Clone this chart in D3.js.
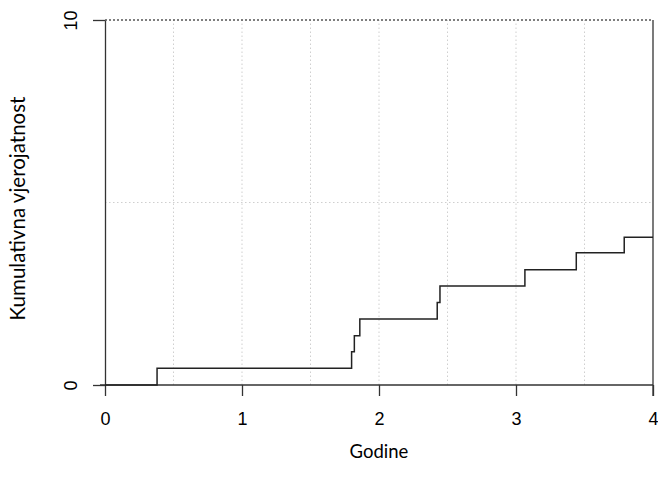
<!DOCTYPE html>
<html>
<head>
<meta charset="utf-8">
<script src="https://cdn.jsdelivr.net/npm/d3@7"></script>
<style>
  body { margin: 0; background: #fff; }
</style>
</head>
<body>
<svg id="chart" width="658" height="487"></svg>
<script>
// Step points: time (years) where the cumulative value jumps, and the value after the jump.
var stepTimes  = [0, 0.38, 1.80, 1.82, 1.86, 2.425, 2.445, 3.065, 3.44, 3.79];
var stepValues = [0, 0.46, 0.91, 1.35, 1.81, 2.26, 2.71, 3.16, 3.62, 4.05];
var endTime = 4;

var xTicks = [0, 1, 2, 3, 4];
var yTicks = [0, 10];
var xGrid = [0.5, 1, 1.5, 2, 2.5, 3, 3.5];
var yGrid = [5];

var svg = d3.select("#chart");

// Plot region in pixels.
var x = d3.scaleLinear().domain([0, 4]).range([105, 653]);
var y = d3.scaleLinear().domain([0, 10]).range([385, 20]);

// Light dotted grid.
svg.selectAll("line.vgrid").data(xGrid).enter().append("line")
    .attr("x1", x).attr("x2", x)
    .attr("y1", y(0)).attr("y2", y(10))
    .attr("stroke", "#cfcfcf").attr("stroke-dasharray", "1.5,2.5");

svg.selectAll("line.hgrid").data(yGrid).enter().append("line")
    .attr("x1", x(0)).attr("x2", x(4))
    .attr("y1", y).attr("y2", y)
    .attr("stroke", "#cfcfcf").attr("stroke-dasharray", "1.5,2.5");

// Dotted line at the top of the range.
svg.append("line")
    .attr("x1", x(0)).attr("x2", x(4))
    .attr("y1", y(10)).attr("y2", y(10))
    .attr("stroke", "#555").attr("stroke-width", 1.5).attr("stroke-dasharray", "2,2");

// Axes drawn through the origin, plus the right side line.
var fmt = d3.format("d");
var xAxis = d3.axisBottom(x).tickValues(xTicks).tickFormat(fmt).tickSize(11).tickPadding(16).tickSizeOuter(0);
var yAxis = d3.axisLeft(y).tickValues(yTicks).tickFormat(fmt).tickSize(12).tickPadding(10).tickSizeOuter(0);

var gx = svg.append("g").attr("transform", "translate(0," + y(0) + ")").call(xAxis);
var gy = svg.append("g").attr("transform", "translate(" + x(0) + ",0)").call(yAxis);

[gx, gy].forEach(function(g) {
    g.attr("font-family", null).attr("font-size", null);
    g.select(".domain").attr("stroke", "#333").attr("stroke-width", 1.3);
    g.selectAll(".tick line").attr("stroke", "#333").attr("stroke-width", 1.3);
    g.selectAll(".tick text")
        .style("font-family", "'Liberation Sans', Arial, sans-serif")
        .style("font-size", "18px").attr("fill", "#000");
});
gx.select(".domain").attr("d", "M" + (x(0) - 5) + ",0H" + x(4));

// Rotated y tick labels as in R.
gy.selectAll(".tick text")
    .attr("x", null)
    .attr("text-anchor", "middle")
    .attr("transform", "translate(-34,0) rotate(-90)")
    .attr("dy", "0.35em");

svg.append("line")
    .attr("x1", x(4)).attr("x2", x(4))
    .attr("y1", y(10)).attr("y2", y(0) + 11)
    .attr("stroke", "#333").attr("stroke-width", 1.3);

// Step line.
var pts = stepTimes.map(function(t, i) { return [t, stepValues[i]]; });
pts.push([endTime, stepValues[stepValues.length - 1]]);
var line = d3.line()
    .x(function(d) { return x(d[0]); })
    .y(function(d) { return y(d[1]); })
    .curve(d3.curveStepAfter);

svg.append("path")
    .datum(pts)
    .attr("d", line)
    .attr("fill", "none")
    .attr("stroke", "#222")
    .attr("stroke-width", 1.5);

// Axis titles.
svg.append("text")
    .attr("x", (x(0) + x(4)) / 2).attr("y", 458)
    .attr("text-anchor", "middle")
    .style("font-family", "Lato, sans-serif").style("font-size", "18.5px")
    .text("Godine");

svg.append("text")
    .attr("transform", "translate(25," + ((y(0) + y(10)) / 2 + 6) + ") rotate(-90)")
    .attr("text-anchor", "middle")
    .style("font-family", "Lato, sans-serif").style("font-size", "20.5px")
    .text("Kumulativna vjerojatnost");
</script>
</body>
</html>
